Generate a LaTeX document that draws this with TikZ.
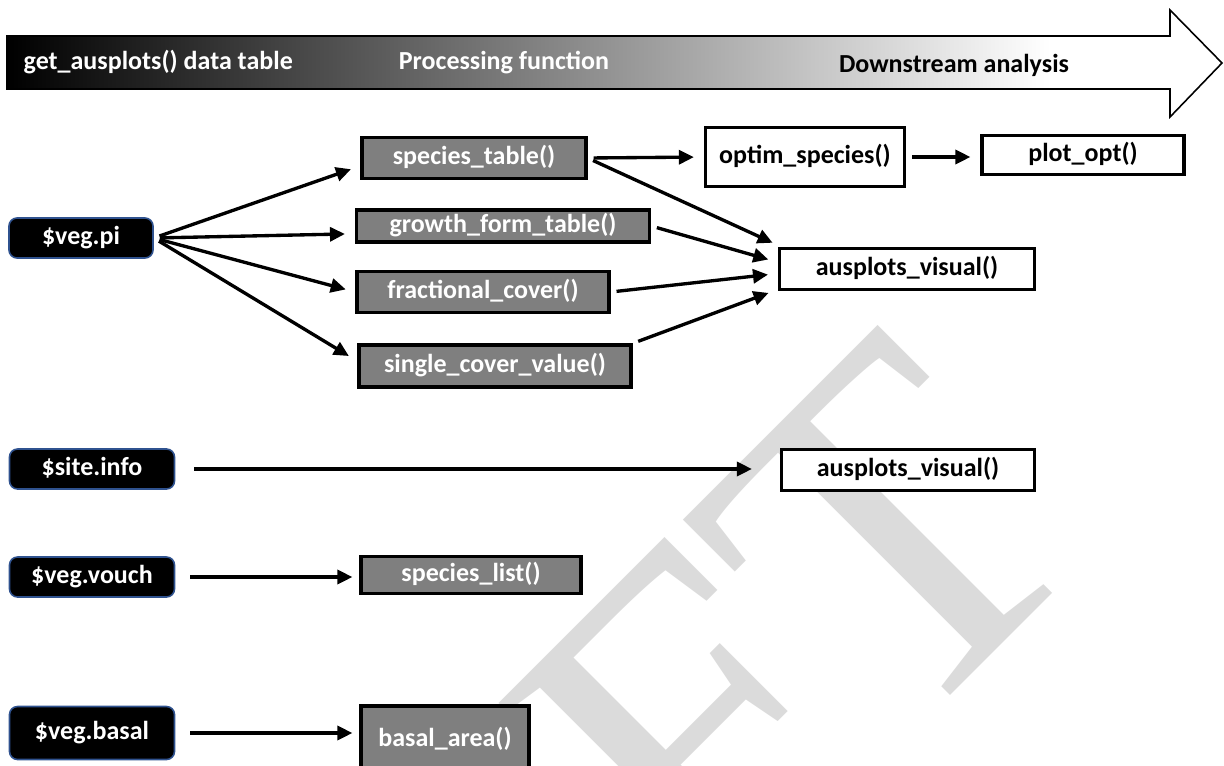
\documentclass[tikz,border=0pt]{standalone}
\usepackage{fontspec}
\setmainfont{Carlito}
\newfontfamily\wmfont{Liberation Serif}
\usetikzlibrary{arrows.meta}
\definecolor{procgray}{HTML}{7F7F7F}
\definecolor{srcedge}{HTML}{2F528F}
\colorlet{wmgray}{black!14}

\begin{document}
\begin{tikzpicture}[lbl/.style={font=\fontsize{7.4}{9}\selectfont\bfseries, inner sep=0pt,
                    text height=1.9mm, text depth=0.68mm},
                    src/.style={lbl, draw=srcedge, line width=0.45pt, fill=black, text=white,
                    rounded corners=0.8mm, minimum width=16.5mm, minimum height=4mm},
                    proc/.style={lbl, draw=black, line width=0.9pt, fill=procgray, text=white,
                    minimum height=4.1mm},
                    outp/.style={lbl, draw=black, line width=0.9pt, fill=white, text=black,
                    minimum height=4.1mm},
                    link/.style={line width=0.95pt, -{Triangle[length=1.5mm,width=1.4mm]},
                    shorten <=0.6mm, shorten >=1mm}]
\useasboundingbox (0,0) rectangle (12.24,-7.65);
\clip (0,0) rectangle (12.24,-7.65);
\node[font=\fontsize{136}{140}\wmfont, text=wmgray, inner sep=0pt, anchor=base east, rotate=45] (wm) at (11.05,-5.40) {FT};
\shade[left color=black, right color=white] (0.07,-0.36) rectangle (10.5,-0.89);
\draw[line width=0.45pt] (0.07,-0.36) -- (11.70,-0.36) -- (11.70,-0.10) -- (12.22,-0.63) -- (11.70,-1.17) -- (11.70,-0.89) -- (0.07,-0.89) -- cycle;
\node[lbl, text=white, anchor=west] (hdata) at (0.23,-0.63) {get\_ausplots() data table};
\node[lbl, text=white] (hproc) at (5.04,-0.63) {Processing function};
\node[lbl] (hdown) at (9.54,-0.66) {Downstream analysis};
\node[src, minimum width=14.4mm] (vegpi) at (0.81,-2.38) {\$veg.pi};
\node[src] (siteinfo) at (0.92,-4.69) {\$site.info};
\node[src] (vegvouch) at (0.92,-5.77) {\$veg.vouch};
\node[src, minimum height=5.3mm] (vegbasal) at (0.92,-7.33) {\$veg.basal};
\node[proc, minimum width=22.4mm] (spectab) at (4.74,-1.58) {species\_table()};
\node[proc, minimum width=29.3mm, minimum height=3.2mm] (growtab) at (5.03,-2.26) {growth\_form\_table()};
\node[proc, minimum width=25.2mm] (fraccov) at (4.83,-2.92) {fractional\_cover()};
\node[proc, minimum width=27.2mm, minimum height=4.2mm] (singcov) at (4.95,-3.66) {single\_cover\_value()};
\node[proc, minimum width=22mm, minimum height=3.7mm] (speclist) at (4.71,-5.75) {species\_list()};
\node[proc, minimum width=16.8mm, minimum height=6.8mm] (basarea) at (4.45,-7.40) {basal\_area()};
\node[outp, minimum width=19.9mm, minimum height=5.9mm] (optsp) at (8.05,-1.57) {optim\_species()};
\node[outp, minimum width=20.2mm, minimum height=3.9mm] (plotopt) at (10.83,-1.55) {plot\_opt()};
\node[outp, minimum width=25.5mm] (visA) at (9.07,-2.69) {ausplots\_visual()};
\node[outp, minimum width=25.3mm] (visB) at (9.08,-4.70) {ausplots\_visual()};
\draw[link] (vegpi.east) -- (spectab.184);
\draw[link] (vegpi.east) -- (growtab.183);
\draw[link] (vegpi.east) -- (fraccov.west);
\draw[link] (vegpi.east) -- (singcov.178);
\draw[link] (spectab.east) -- (optsp.west);
\draw[link] (spectab.east) -- (visA.170);
\draw[link] (growtab.east) -- (visA.177);
\draw[link] (fraccov.east) -- (visA.182);
\draw[link] (singcov.north east) -- (visA.189);
\draw[link] (optsp.east) -- (optsp.east -| plotopt.west);
\draw[link, shorten <=1.9mm, shorten >=2.8mm] (siteinfo.east) -- (siteinfo.east -| visB.west);
\draw[link, shorten <=1.5mm, shorten >=0.7mm] (vegvouch.east) -- (vegvouch.east -| speclist.west);
\draw[link, shorten <=1.5mm, shorten >=0.7mm] (vegbasal.east) -- (vegbasal.east -| basarea.west);
\end{tikzpicture}
\end{document}
